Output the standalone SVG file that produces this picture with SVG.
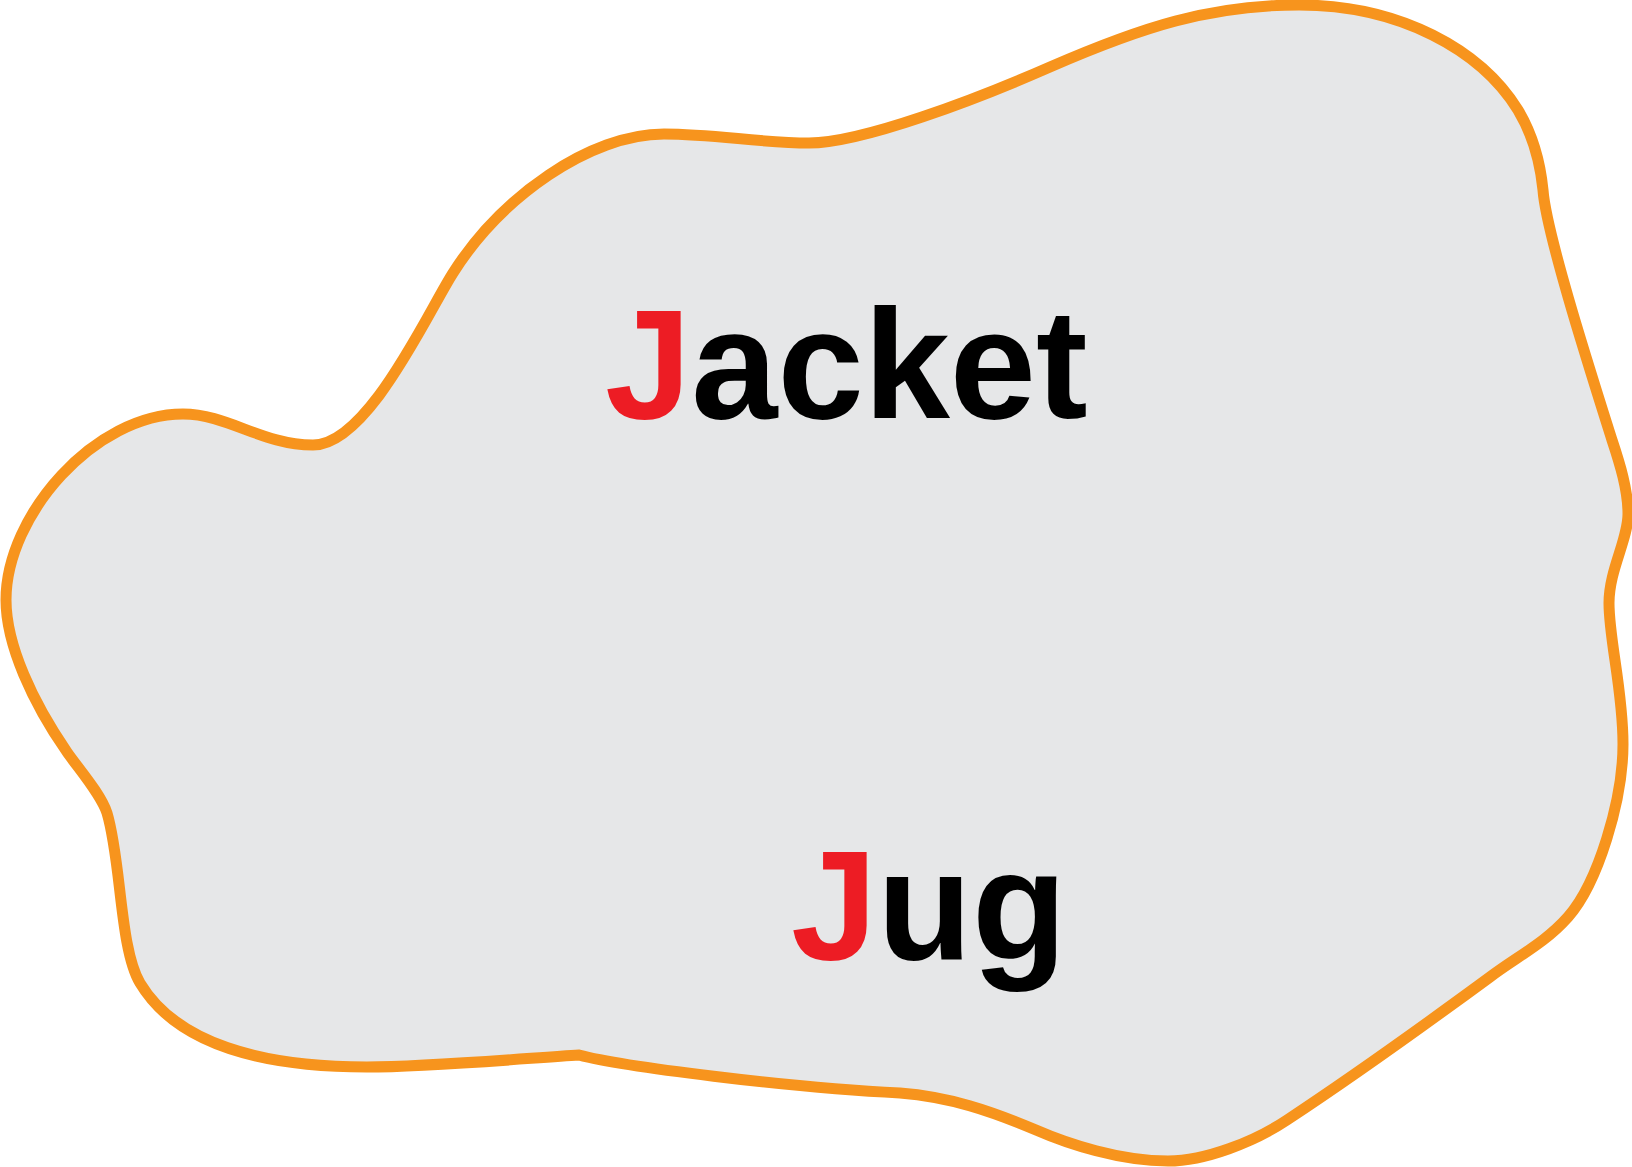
<svg xmlns="http://www.w3.org/2000/svg" width="1632" height="1167" viewBox="0 0 1632 1167">
<style>
.blob{fill:#E6E7E8;stroke:#F7941D;stroke-width:11;stroke-linejoin:miter}
.lbl{font-family:"Liberation Sans",Arial,sans-serif;font-weight:bold;font-size:155px;fill:#000}
.ini{fill:#ED1C24}
</style>
<rect width="1632" height="1167" fill="#fff"/>
<g id="region">
<path class="blob" d="M6,600
C6,515 95,414 183,414
C228,414 262,445 313,445
C368,445 428,312 453,273
C501,197 590,134 664,134
C715,134 760,143 809,143
C862,143 977,99 1050,67
C1142,27 1210,5 1299,5
C1400,5 1481,50 1518,110
C1536,140 1541,170 1543,190
C1546,232 1588,364 1612,440
C1620,464 1628,490 1628,514
C1628,540 1609,570 1609,603
C1609,640 1623,690 1623,744
C1623,800 1598,883 1568,917
C1545,943 1518,956 1490,977
C1426,1024 1337,1087 1287,1120
C1254,1142 1205,1161 1168,1161
C1120,1161 1068,1144 1036,1130
C990,1110.5 950,1097 900,1093
C790,1088 620,1066 579,1055
C530,1058 430,1067 367,1067
C260,1067 176,1043 140,983
C119.5,948.7 121.5,861 107,813
C101,794 78,768 67,752
C33,703 6,645 6,600 Z"/>
</g>
<g id="connectors"></g>
<g id="node-jacket">
<text class="lbl" x="605" y="418"><tspan class="ini">J</tspan>acket</text>
</g>
<g id="node-jug">
<text class="lbl" x="791" y="959"><tspan class="ini">J</tspan>ug</text>
</g>
</svg>
